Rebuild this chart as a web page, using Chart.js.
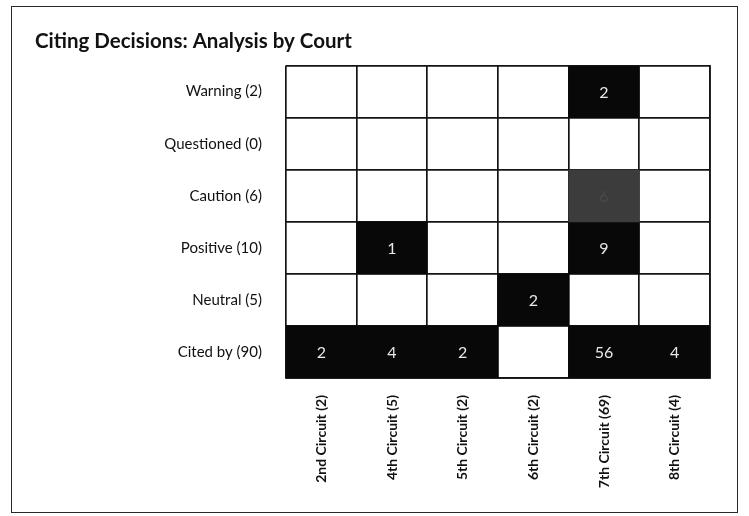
<!DOCTYPE html>
<html>
<head>
<meta charset="utf-8">
<script src="https://cdn.jsdelivr.net/npm/chart.js@4.4.1/dist/chart.umd.min.js"></script>
<style>
  html, body { margin: 0; padding: 0; background: #fff; }
  #frame { position: absolute; left: 11px; top: 6px; width: 727px; height: 507px; border: 1.5px solid #2a2a2a; box-sizing: border-box; }
  #wrap { position: absolute; left: 0; top: 0; width: 749px; height: 516px; }
</style>
</head>
<body>
<div id="frame"></div>
<div id="wrap"><canvas id="c" width="749" height="516"></canvas></div>
<script>
// ---- data ----
const circuits = ['2nd Circuit (2)', '4th Circuit (5)', '5th Circuit (2)', '6th Circuit (2)', '7th Circuit (69)', '8th Circuit (4)'];
const rowLabels = ['Warning (2)', 'Questioned (0)', 'Caution (6)', 'Positive (10)', 'Neutral (5)', 'Cited by (90)'];
const warning    = [0, 0, 0, 0, 2, 0];
const questioned = [0, 0, 0, 0, 0, 0];
const caution    = [0, 0, 0, 0, 6, 0];
const positive   = [0, 1, 0, 0, 9, 0];
const neutral    = [0, 0, 0, 2, 0, 0];
const citedBy    = [2, 4, 2, 0, 56, 4];
const rows = [warning, questioned, caution, positive, neutral, citedBy];

// ---- styles ----
const rowFill = ['#080808', '#080808', '#3c3c3c', '#080808', '#080808', '#080808'];
const rowText = ['#e8e8e8', '#e8e8e8', '#4a4a4a', '#e8e8e8', '#e8e8e8', '#e8e8e8'];
const FONT = 'Lato, "Open Sans", sans-serif';

const datasets = rows.map((vals, i) => ({
  label: rowLabels[i],
  data: vals.map((v, j) => ({ x: circuits[j], y: [i, i + 1], v: v })),
  yAxisID: 'yv',
  backgroundColor: vals.map(v => v > 0 ? rowFill[i] : 'rgba(255,255,255,0)'),
  borderWidth: 0,
  barPercentage: 1,
  categoryPercentage: 1
}));

const cellLabels = {
  id: 'cellLabels',
  afterDatasetsDraw(chart) {
    const ctx = chart.ctx;
    ctx.save();
    ctx.font = '16px ' + FONT;
    ctx.textAlign = 'center';
    ctx.textBaseline = 'middle';
    chart.data.datasets.forEach((ds, i) => {
      const meta = chart.getDatasetMeta(i);
      meta.data.forEach((el, j) => {
        const v = ds.data[j].v;
        if (v > 0) {
          ctx.fillStyle = rowText[i];
          ctx.fillText(String(v), el.x, (el.y + el.base) / 2 + 1);
        }
      });
    });
    ctx.restore();
  }
};

new Chart(document.getElementById('c'), {
  type: 'bar',
  data: { labels: circuits, datasets: datasets },
  options: {
    responsive: false,
    animation: false,
    layout: { padding: { left: 35, right: 39, top: 0, bottom: 0 } },
    plugins: {
      legend: { display: false },
      tooltip: { enabled: false },
      title: {
        display: true,
        text: 'Citing Decisions: Analysis by Court',
        align: 'start',
        color: '#111',
        font: { family: FONT, size: 20.5, weight: 'bold' },
        padding: { top: 29, bottom: 12 }
      }
    },
    scales: {
      x: {
        type: 'category',
        stacked: true,
        offset: true,
        grid: { display: true, offset: true, color: '#141414', lineWidth: 1.7, drawTicks: false },
        border: { display: true, color: '#141414', width: 1.7 },
        ticks: {
          minRotation: 90, maxRotation: 90, autoSkip: false, padding: 17,
          color: '#111', font: { family: FONT, size: 14, weight: 'bold' }
        },
        afterFit(s) { s.height = 138; }
      },
      y: {
        type: 'category',
        labels: rowLabels,
        position: 'left',
        offset: true,
        grid: { display: false, drawTicks: false },
        border: { display: false },
        ticks: { padding: 24, color: '#111', font: { family: FONT, size: 15 } },
        afterFit(s) { s.width = 251; }
      },
      yv: {
        type: 'linear',
        position: 'right',
        reverse: true,
        min: 0,
        max: 6,
        stacked: false,
        ticks: { display: false, stepSize: 1 },
        grid: { display: true, color: '#141414', lineWidth: 1.7, drawTicks: false },
        border: { display: true, color: '#141414', width: 1.7 },
        afterFit(s) { s.width = 0; }
      }
    }
  },
  plugins: [cellLabels]
});
</script>
</body>
</html>
